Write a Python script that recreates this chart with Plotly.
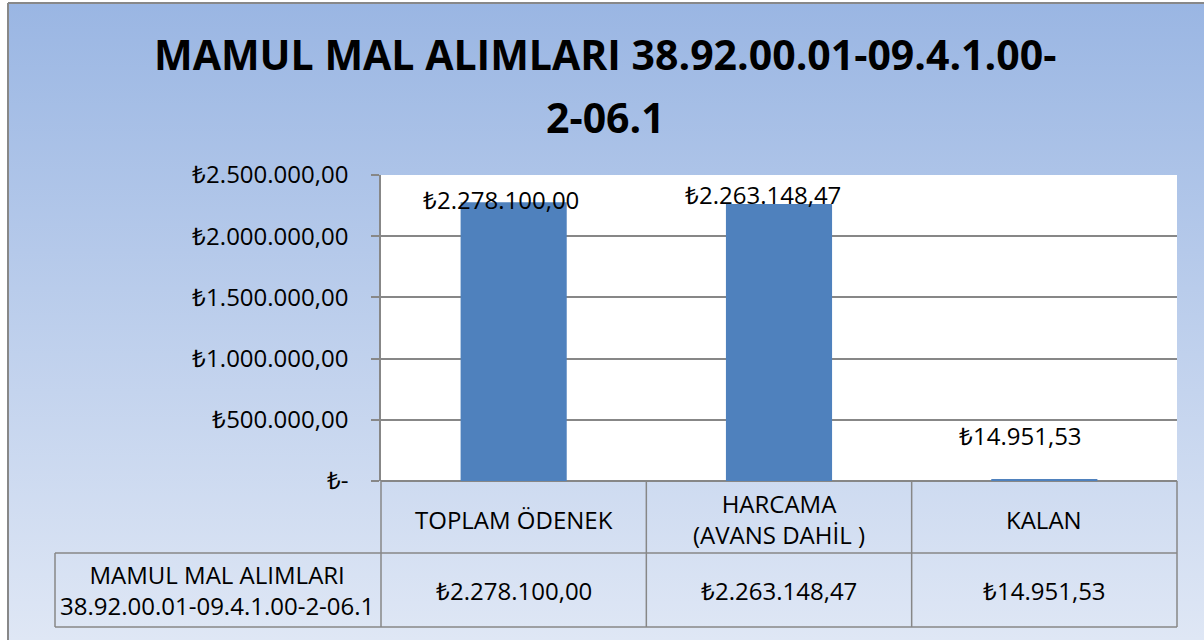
import base64
import plotly.graph_objects as go

# ---------------- data ----------------
categories = ["TOPLAM ÖDENEK", "HARCAMA (AVANS DAHİL )", "KALAN"]
header_labels = ["TOPLAM ÖDENEK", "HARCAMA<br>(AVANS DAHİL )", "KALAN"]
values = [2278100.00, 2263148.47, 14951.53]
series_name = "MAMUL MAL ALIMLARI<br>38.92.00.01-09.4.1.00-2-06.1"
title_lines = ["MAMUL MAL ALIMLARI 38.92.00.01-09.4.1.00-", "2-06.1"]
tick_values = [0, 500000, 1000000, 1500000, 2000000, 2500000]
tick_labels = ["₺-", "₺500.000,00", "₺1.000.000,00", "₺1.500.000,00",
               "₺2.000.000,00", "₺2.500.000,00"]


def fmt_tl(v):
    s = f"{v:,.2f}"
    return "₺" + s.replace(",", "X").replace(".", ",").replace("X", ".")


# ---------------- layout geometry (pixels) ----------------
W, H = 1204, 640
PL, PR, PT, PB = 381, 1177, 175, 481
pw, ph = PR - PL, PB - PT


def px(x):
    return (x - PL) / pw


def py(y):
    return (PB - y) / ph


FONT = "Open Sans"
GRID = "#878787"
TXT = 24

fig = go.Figure()
fig.add_trace(go.Bar(
    x=categories, y=values, width=0.4,
    marker=dict(color="#4F81BD", line=dict(width=0)),
    hoverinfo="x+y", showlegend=False,
))

# gradient background as svg image
svg = ("<svg xmlns='http://www.w3.org/2000/svg' width='100' height='100' preserveAspectRatio='none'>"
       "<defs><linearGradient id='g' x1='0' y1='0' x2='0' y2='1'>"
       "<stop offset='0' stop-color='#9AB6E3'/><stop offset='1' stop-color='#DFE7F5'/>"
       "</linearGradient></defs><rect width='100' height='100' fill='url(#g)'/></svg>")
src = "data:image/svg+xml;base64," + base64.b64encode(svg.encode()).decode()

shapes = []
# white plot area
shapes.append(dict(type="rect", xref="paper", yref="paper", x0=0, x1=1, y0=0, y1=1,
                   fillcolor="white", line=dict(width=0), layer="below"))
# outer border
shapes.append(dict(type="line", xref="paper", yref="paper", x0=px(8), x1=px(8), y0=py(3), y1=py(H + 5),
                   line=dict(color="#888888", width=2)))
shapes.append(dict(type="line", xref="paper", yref="paper", x0=px(8), x1=px(W + 5), y0=py(3), y1=py(3),
                   line=dict(color="#888888", width=2)))

# data table lines
y_hdr = 553
y_bot = 627
x_left = 55
lw = 1.5
ncol = len(categories)
for i in range(ncol + 1):
    xx = i / ncol
    shapes.append(dict(type="line", xref="paper", yref="paper", x0=xx, x1=xx, y0=0, y1=py(y_bot),
                       line=dict(color=GRID, width=lw)))
shapes.append(dict(type="line", xref="paper", yref="paper", x0=px(x_left), x1=1, y0=py(y_hdr), y1=py(y_hdr),
                   line=dict(color=GRID, width=lw)))
shapes.append(dict(type="line", xref="paper", yref="paper", x0=px(x_left), x1=1, y0=py(y_bot), y1=py(y_bot),
                   line=dict(color=GRID, width=lw)))
shapes.append(dict(type="line", xref="paper", yref="paper", x0=px(x_left), x1=px(x_left), y0=py(y_hdr),
                   y1=py(y_bot), line=dict(color=GRID, width=lw)))

annotations = []
# title
title_y = [54, 117]
for t, ty in zip(title_lines, title_y):
    annotations.append(dict(text=t, xref="paper", yref="paper", x=px(W / 2 + 3), y=py(ty),
                            xanchor="center", yanchor="middle", showarrow=False,
                            font=dict(family=FONT, size=41, color="black", weight="bold")))

# data labels above bars
label_yshift = [3, 9, 44]
label_xshift = [-13, -16, -24]
for c, v, ys, xs in zip(categories, values, label_yshift, label_xshift):
    annotations.append(dict(text=fmt_tl(v), x=c, y=v, xref="x", yref="y",
                            xanchor="center", yanchor="middle", yshift=ys, xshift=xs,
                            showarrow=False, font=dict(family=FONT, size=TXT, color="black")))

# table header and values
for i, (h, v) in enumerate(zip(header_labels, values)):
    xc = (i + 0.5) / ncol
    annotations.append(dict(text=h, xref="paper", yref="paper", x=xc, y=py(519),
                            xanchor="center", yanchor="middle", showarrow=False,
                            font=dict(family=FONT, size=TXT, color="black")))
    annotations.append(dict(text=fmt_tl(v), xref="paper", yref="paper", x=xc, y=py(590),
                            xanchor="center", yanchor="middle", showarrow=False,
                            font=dict(family=FONT, size=TXT, color="black")))
annotations.append(dict(text=series_name, xref="paper", yref="paper", x=px((x_left + PL) / 2 - 1), y=py(590),
                        xanchor="center", yanchor="middle", showarrow=False,
                        font=dict(family=FONT, size=TXT, color="black")))

fig.update_layout(
    width=W, height=H,
    margin=dict(l=PL, r=W - PR, t=PT, b=H - PB, pad=0),
    paper_bgcolor="white",
    plot_bgcolor="rgba(0,0,0,0)",
    images=[dict(source=src, xref="paper", yref="paper", x=px(8), y=py(3),
                 sizex=(W - 8) / pw, sizey=(H - 3) / ph, sizing="stretch",
                 xanchor="left", yanchor="top", layer="below")],
    shapes=shapes,
    annotations=annotations,
    showlegend=False,
    bargap=0.6,
    xaxis=dict(range=[-0.5, 2.5], showticklabels=False, showgrid=False, zeroline=False,
               showline=False, ticks=""),
    yaxis=dict(range=[0, 2500000], tickvals=tick_values, ticktext=tick_labels,
               showgrid=True, gridcolor=GRID, gridwidth=1.5, zeroline=True, zerolinecolor=GRID,
               zerolinewidth=1.5, showline=True, linecolor=GRID, linewidth=1.5,
               ticks="outside", ticklen=8, tickcolor=GRID, tickwidth=1.5,
               tickfont=dict(family=FONT, size=TXT, color="black"), ticklabelstandoff=18),
    font=dict(family=FONT),
)

fig.write_html("out.html", config={"displayModeBar": False},
               post_script="document.body.style.margin='0';")
